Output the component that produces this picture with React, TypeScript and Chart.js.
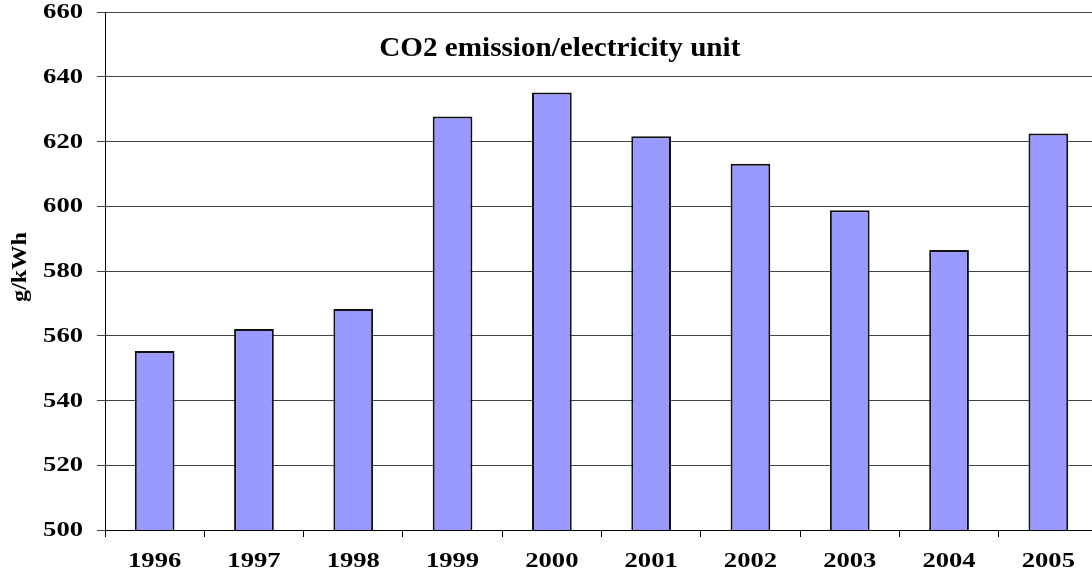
import React, { useEffect, useRef } from "react";
import { Chart, registerables } from "chart.js";

Chart.register(...registerables);

const years = ["1996", "1997", "1998", "1999", "2000", "2001", "2002", "2003", "2004", "2005"];
const emission = [555.3, 562.1, 568.3, 627.7, 635.1, 621.6, 613.1, 598.8, 586.5, 622.5];
const yTicks = [500, 520, 540, 560, 580, 600, 620, 640, 660];
const chartTitle = "CO2 emission/electricity unit";
const yTitle = "g/kWh";

const SERIF = "'Liberation Serif', 'Times New Roman', serif";

// Writes text with a horizontal stretch, giving the wide bold serif look.
function wideText(
  ctx: CanvasRenderingContext2D,
  text: string,
  x: number,
  y: number,
  size: number,
  stretch: number,
  align: CanvasTextAlign,
  rotate = 0
) {
  ctx.save();
  ctx.translate(x, y);
  if (rotate) ctx.rotate(rotate);
  ctx.scale(stretch, 1);
  ctx.font = `bold ${size}px ${SERIF}`;
  ctx.fillStyle = "#000";
  ctx.textAlign = align;
  ctx.textBaseline = "middle";
  ctx.fillText(text, 0, 0);
  ctx.restore();
}

// Caption, axis labels and axis title.
const textPlugin = {
  id: "wideLabels",
  afterDraw(chart: any) {
    const { ctx, chartArea, scales } = chart;
    const xs = scales.x;
    const ys = scales.y;

    ys.ticks.forEach((t: any, i: number) => {
      wideText(ctx, String(t.value), 83, ys.getPixelForTick(i) + 1, 20, 1.33, "right");
    });
    xs.ticks.forEach((_t: any, i: number) => {
      wideText(ctx, years[i], xs.getPixelForTick(i), 562, 20, 1.33, "center");
    });

    wideText(ctx, yTitle, 20, (chartArea.top + chartArea.bottom) / 2 - 4, 22, 1.1, "center", -Math.PI / 2);

    const cx = chartArea.left + (chartArea.right - chartArea.left) * 0.458;
    wideText(ctx, chartTitle, cx, chartArea.top + 37, 27, 1.08, "center");
  },
};

export default function App() {
  const canvasRef = useRef<HTMLCanvasElement | null>(null);

  useEffect(() => {
    document.body.style.margin = "0";
    document.body.style.overflow = "hidden";
    const canvas = canvasRef.current;
    if (!canvas) return;
    const chart = new Chart(canvas, {
      type: "bar",
      data: {
        labels: years,
        datasets: [
          {
            data: emission,
            backgroundColor: "#9999FF",
            borderColor: "#111",
            borderWidth: 2,
            barPercentage: 0.4,
            categoryPercentage: 1,
          },
        ],
      },
      plugins: [textPlugin],
      options: {
        animation: false,
        responsive: false,
        maintainAspectRatio: false,
        layout: { padding: { top: 12, right: 2, left: 0, bottom: 0 } },
        plugins: {
          legend: { display: false },
          tooltip: { enabled: false },
          title: { display: false },
        },
        scales: {
          x: {
            grid: {
              display: true,
              drawOnChartArea: false,
              drawTicks: true,
              tickLength: 7,
              color: "#000",
              lineWidth: 1,
            },
            border: { display: true, color: "#000", width: 1 },
            ticks: {
              color: "rgba(0,0,0,0)",
              font: { family: SERIF, size: 20, weight: "bold" },
              padding: 10,
              maxRotation: 0,
            },
            afterFit(scale: any) {
              scale.height = 46;
              scale.paddingLeft = 0;
              scale.paddingRight = 0;
            },
          },
          y: {
            min: 500,
            max: 660,
            afterBuildTicks(scale: any) {
              scale.ticks = yTicks.map((v) => ({ value: v }));
            },
            grid: {
              color: "#444",
              lineWidth: 1,
              drawTicks: true,
              tickLength: 8,
            },
            border: { display: true, color: "#000", width: 1 },
            ticks: {
              color: "rgba(0,0,0,0)",
              font: { family: SERIF, size: 20, weight: "bold" },
              padding: 14,
            },
            afterFit(scale: any) {
              scale.width = 105;
              scale.paddingTop = 0;
              scale.paddingBottom = 0;
            },
          },
        },
      },
    });
    return () => chart.destroy();
  }, []);

  return (
    <div style={{ position: "fixed", left: 0, top: 0, width: 1092, height: 576, overflow: "hidden" }}>
      <canvas ref={canvasRef} width={1100} height={576} style={{ display: "block", width: 1100, height: 576 }} />
    </div>
  );
}
